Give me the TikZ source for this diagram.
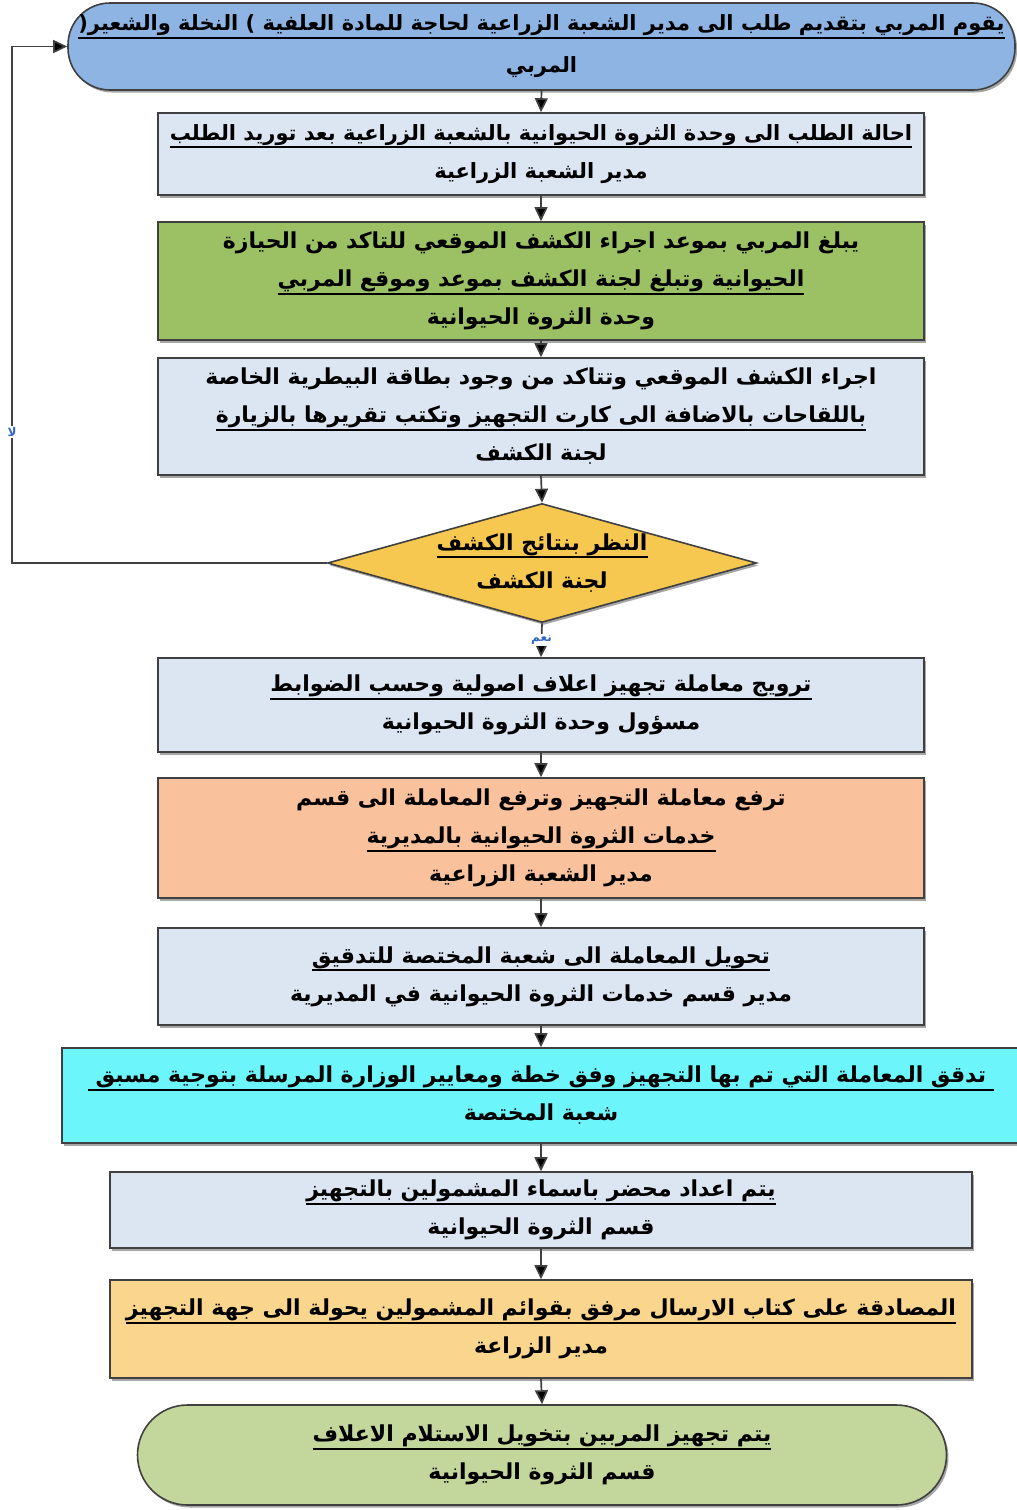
\documentclass[tikz,border=0pt]{standalone}
\usepackage{fontspec}
\usetikzlibrary{shapes.geometric,shadows,arrows.meta}
\TeXXeTstate=1
\newfontfamily\arabicfont[Script=Arabic]{DejaVu Sans}
% right-to-left line, and right-to-left line with a heavy underline
\newcommand\rl[1]{\beginR #1\endR}
\newcommand\ulr[1]{\setbox0=\hbox{\beginR #1\endR}\leavevmode\rlap{\vrule height -6pt depth 8pt width \wd0}\box0}
\definecolor{edge}{HTML}{404040}
\definecolor{topblue}{HTML}{8EB4E3}
\definecolor{paleblue}{HTML}{DCE6F2}
\definecolor{leaf}{HTML}{9CC064}
\definecolor{amber}{HTML}{F7C850}
\definecolor{salmon}{HTML}{F9C19C}
\definecolor{aqua}{HTML}{6CF5FA}
\definecolor{sand}{HTML}{FAD58E}
\definecolor{sage}{HTML}{C3D69B}
\definecolor{lblblue}{HTML}{3566C4}
\begin{document}
\begin{tikzpicture}[x=1pt,y=-1pt,
  shape box/.style={draw=edge, line width=1.6pt, rectangle, inner sep=0pt,
    drop shadow={shadow xshift=2pt,shadow yshift=-2.5pt,fill=black,opacity=0.35}},
  txt/.style={font=\arabicfont\bfseries\fontsize{22}{38}\selectfont, align=center, text=black},
  procbox/.style={shape box, txt, minimum width=766pt},
  terminal/.style={shape box, txt, rounded corners=#1},
  conn/.style={draw=edge, line width=1.7pt, -{Triangle[length=14pt,width=13pt,fill=black]}},
  lbl/.style={font=\arabicfont\bfseries\fontsize{12}{14}\selectfont, text=lblblue, fill=white, inner sep=1.5pt}]
\useasboundingbox (0,0) rectangle (1017,1510);
\fill[white] (0,0) rectangle (1017,1510);

% process steps, top to bottom
\node[terminal=42pt, fill=topblue, minimum width=947pt, minimum height=87pt,
      font=\arabicfont\bfseries\fontsize{21}{42}\selectfont] (start) at (541.5,46.5)
  {\ulr{يقوم المربي بتقديم طلب الى مدير الشعبة الزراعية لحاجة للمادة العلفية ) النخلة والشعير(}\\ \rl{المربي}};

\node[procbox, fill=paleblue, minimum height=82pt,
      font=\arabicfont\bfseries\fontsize{21}{38}\selectfont] (b2) at (541,154)
  {\ulr{احالة الطلب الى وحدة الثروة الحيوانية بالشعبة الزراعية بعد توريد الطلب}\\ \rl{مدير الشعبة الزراعية}};

\node[procbox, fill=leaf, minimum height=118pt] (b3) at (541,281)
  {\rl{يبلغ المربي بموعد اجراء الكشف الموقعي  للتاكد من الحيازة}\\ \ulr{الحيوانية وتبلغ لجنة الكشف بموعد وموقع المربي}\\ \rl{وحدة الثروة الحيوانية}};

\node[procbox, fill=paleblue, minimum height=117pt] (b4) at (541,416.5)
  {\rl{اجراء الكشف الموقعي وتتاكد من وجود بطاقة البيطرية الخاصة}\\ \ulr{باللقاحات بالاضافة الى كارت التجهيز وتكتب تقريرها بالزيارة}\\ \rl{لجنة الكشف}};

\node[diamond, draw=edge, line width=1.6pt, fill=amber, inner sep=0pt,
      minimum width=429pt, minimum height=119pt,
      drop shadow={shadow xshift=2pt,shadow yshift=-2.5pt,fill=black,opacity=0.35}] (dec) at (542,563) {};
\node[txt] (dectxt) at (dec.center) {\ulr{النظر بنتائج الكشف}\\ \rl{لجنة الكشف}};

\node[procbox, fill=paleblue, minimum height=94pt] (b6) at (541,705)
  {\ulr{ترويج معاملة تجهيز اعلاف اصولية وحسب الضوابط}\\ \rl{مسؤول وحدة الثروة الحيوانية}};

\node[procbox, fill=salmon, minimum height=120pt] (b7) at (541,838)
  {\rl{ترفع  معاملة التجهيز وترفع المعاملة الى قسم}\\ \ulr{خدمات الثروة الحيوانية بالمديرية}\\ \rl{مدير الشعبة الزراعية}};

\node[procbox, fill=paleblue, minimum height=97pt] (b8) at (541,976.5)
  {\ulr{تحويل المعاملة الى شعبة المختصة للتدقيق}\\ \rl{مدير قسم خدمات الثروة الحيوانية في المديرية}};

\node[shape box, txt, fill=aqua, minimum width=958pt, minimum height=95pt] (b9) at (541,1095.5)
  {\ulr{\ تدقق المعاملة التي تم بها التجهيز وفق خطة ومعايير الوزارة المرسلة بتوجية مسبق\ }\\ \rl{شعبة المختصة}};

\node[shape box, txt, fill=paleblue, minimum width=862pt, minimum height=76pt] (b10) at (541,1210)
  {\ulr{يتم اعداد محضر باسماء المشمولين بالتجهيز}\\ \rl{قسم الثروة الحيوانية}};

\node[shape box, txt, fill=sand, minimum width=862pt, minimum height=98pt] (b11) at (541,1329)
  {\ulr{المصادقة على كتاب الارسال مرفق بقوائم المشمولين يحولة الى جهة التجهيز}\\ \rl{مدير الزراعة}};

\node[terminal=50pt, fill=sage, minimum width=809pt, minimum height=100pt] (end) at (542,1455)
  {\ulr{يتم تجهيز المربين بتخويل الاستلام الاعلاف}\\ \rl{قسم الثروة الحيوانية}};

% connectors
\draw[conn] (start.south) -- (b2.north);
\draw[conn] (b2.south) -- (b3.north);
\draw[conn] (b3.south) -- (b4.north);
\draw[conn] (b4.south) -- (dec.north);
\draw[conn] (dec.south) -- node[lbl] (yes) {\rl{نعم}} (b6.north);
\draw[conn] (b6.south) -- (b7.north);
\draw[conn] (b7.south) -- (b8.north);
\draw[conn] (b8.south) -- (b9.north);
\draw[conn] (b9.south) -- (b10.north);
\draw[conn] (b10.south) -- (b11.north);
\draw[conn] (b11.south) -- (end.north);

% rejection loop back to the request
\coordinate (loopL) at (12,563);
\draw[conn] (dec.west) -- (loopL) |- (start.west);
\node[lbl] (no) at (12,432) {\rl{لا}};
\end{tikzpicture}
\end{document}
